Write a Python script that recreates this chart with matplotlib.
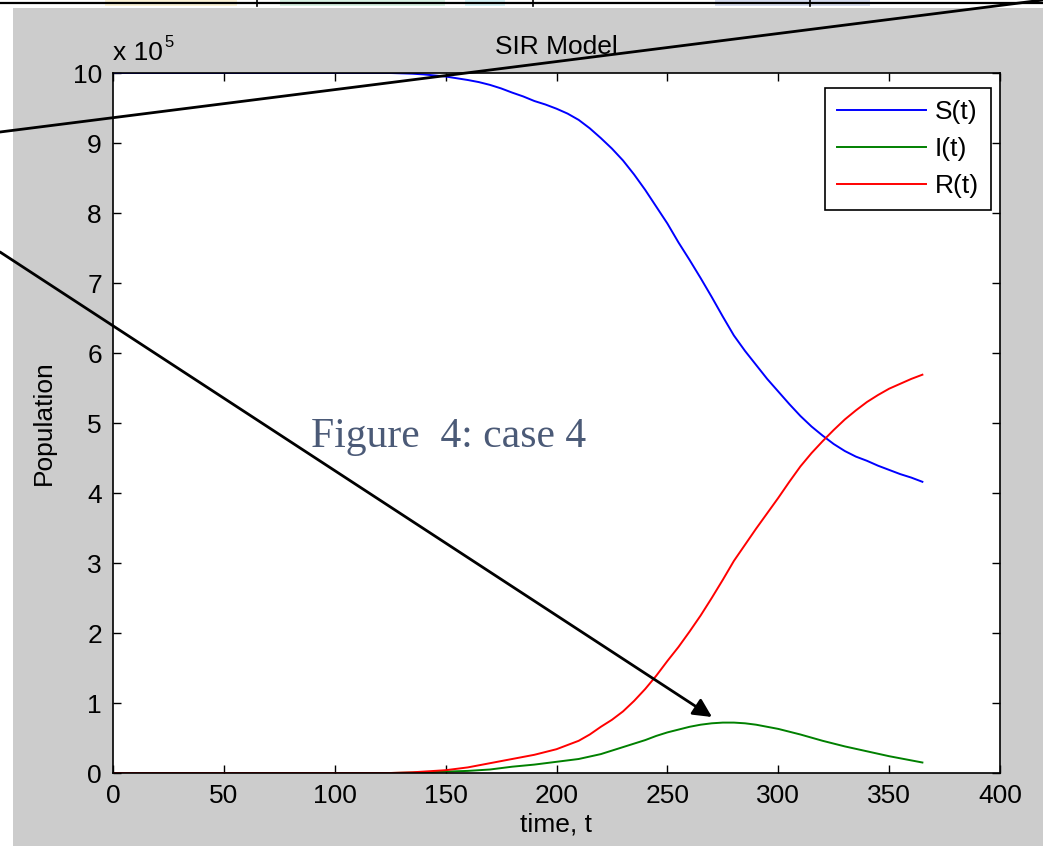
import matplotlib
matplotlib.use("Agg")
import matplotlib.pyplot as plt
from matplotlib.patches import Rectangle

plt.rcParams['font.family'] = ['Liberation Sans', 'DejaVu Sans']

# time in days, populations in units of 1e5
t = [0, 20, 40, 60, 80, 100, 120, 125, 130, 135, 140, 145, 150, 155, 160,
     165, 170, 175, 180, 185, 190, 195, 200, 205, 210, 215, 220, 225, 230,
     235, 240, 245, 250, 255, 260, 265, 270, 275, 280, 285, 290, 295, 300,
     305, 310, 315, 320, 325, 330, 335, 340, 345, 350, 355, 360, 365]
s_t = [10, 10, 10, 10, 10, 10, 10, 10, 9.995, 9.99, 9.98, 9.965, 9.95,
       9.925, 9.9, 9.87, 9.83, 9.78, 9.72, 9.665, 9.6, 9.55, 9.49, 9.42,
       9.33, 9.21, 9.07, 8.92, 8.75, 8.55, 8.33, 8.09, 7.85, 7.58, 7.33,
       7.07, 6.8, 6.52, 6.25, 6.03, 5.83, 5.63, 5.45, 5.27, 5.1, 4.95, 4.82,
       4.7, 4.6, 4.52, 4.46, 4.39, 4.33, 4.27, 4.22, 4.16]
i_t = [0, 0, 0, 0, 0, 0, 0, 0, 0.003, 0.006, 0.01, 0.015, 0.02, 0.025,
       0.03, 0.04, 0.05, 0.07, 0.09, 0.105, 0.12, 0.14, 0.16, 0.18, 0.2,
       0.235, 0.27, 0.32, 0.37, 0.42, 0.47, 0.53, 0.58, 0.62, 0.66, 0.69,
       0.71, 0.72, 0.72, 0.71, 0.69, 0.66, 0.63, 0.59, 0.55, 0.505, 0.46,
       0.42, 0.38, 0.345, 0.31, 0.275, 0.24, 0.21, 0.18, 0.15]
r_t = [0, 0, 0, 0, 0, 0, 0, 0, 0.005, 0.01, 0.02, 0.03, 0.04, 0.06, 0.08,
       0.11, 0.14, 0.17, 0.2, 0.23, 0.26, 0.3, 0.34, 0.4, 0.46, 0.55, 0.66,
       0.76, 0.88, 1.03, 1.2, 1.39, 1.6, 1.8, 2.02, 2.25, 2.5, 2.76, 3.03,
       3.26, 3.49, 3.71, 3.93, 4.16, 4.38, 4.57, 4.74, 4.9, 5.05, 5.18, 5.3,
       5.4, 5.49, 5.56, 5.63, 5.69]

xticks = [0, 50, 100, 150, 200, 250, 300, 350, 400]
yticks = list(range(0, 11))

W, H = 1043, 846
fig = plt.figure(figsize=(W / 100, H / 100), dpi=100)

# background: grey matlab figure window and the table strip above it
bg = fig.add_axes([0, 0, 1, 1], zorder=0)
bg.set_xlim(0, W)
bg.set_ylim(H, 0)
bg.axis('off')
bg.add_patch(Rectangle((13, 8), W - 13, H - 8, color='#cccccc', lw=0))
for x0, x1, c in [(105, 237, '#fbf2d6'), (280, 445, '#d8f2e4'),
                  (465, 505, '#d6f2f6'), (715, 870, '#d6dcef')]:
    bg.add_patch(Rectangle((x0, 0), x1 - x0, 6, color=c, lw=0))
bg.plot([0, W], [3, 3], color='black', lw=1.6)
for x in [257, 533, 810]:
    bg.plot([x, x], [0, 6], color='black', lw=1.2)

ax = fig.add_axes([113 / W, 1 - 773 / H, 887 / W, 700 / H], zorder=1)
ax.set_facecolor('white')
ax.plot(t, s_t, color='#0000ff', lw=1.4, label='S(t)')
ax.plot(t, i_t, color='#008000', lw=1.4, label='I(t)')
ax.plot(t, r_t, color='#ff0000', lw=1.4, label='R(t)')
ax.set_xlim(0, 400)
ax.set_ylim(0, 10)
ax.set_xticks(xticks)
ax.set_yticks(yticks)
ax.tick_params(direction='in', length=6, width=1, top=True, right=True,
               labelsize=19, pad=8)
for sp in ax.spines.values():
    sp.set_linewidth(1.2)
ax.set_title('SIR Model', fontsize=19, pad=14)
ax.set_xlabel('time, t', fontsize=19, labelpad=3)
ax.set_ylabel('Population', fontsize=19, labelpad=12)
t10 = ax.text(0, 1.012, 'x 10', transform=ax.transAxes, fontsize=19,
              va='bottom')
ax.annotate('5', xy=(1, 0.6), xycoords=t10, xytext=(1, 0),
            textcoords='offset points', fontsize=12, va='bottom')
leg = ax.legend(loc='upper right', bbox_to_anchor=(0.9898, 0.9786),
                fontsize=19, handlelength=3.35, labelspacing=0.5,
                handletextpad=0.35, borderpad=0.45, borderaxespad=0,
                fancybox=False, framealpha=1)
leg.get_frame().set_edgecolor('black')
leg.get_frame().set_linewidth(1.2)

# annotation overlay drawn on top of the figure
ov = fig.add_axes([0, 0, 1, 1], zorder=2)
ov.set_xlim(0, W)
ov.set_ylim(H, 0)
ov.axis('off')
ov.patch.set_visible(False)
ov.plot([0, W], [132, 0], color='black', lw=2)
ov.annotate('', xy=(712, 717), xytext=(0, 252),
            arrowprops=dict(arrowstyle='-|>', lw=2, color='black',
                            mutation_scale=28, shrinkA=0, shrinkB=0))
ov.text(311, 437, 'Figure  4: case 4', family='Liberation Serif', fontsize=30,
        color='#4b5a77', va='center')

fig.savefig('out.png', dpi=100)
